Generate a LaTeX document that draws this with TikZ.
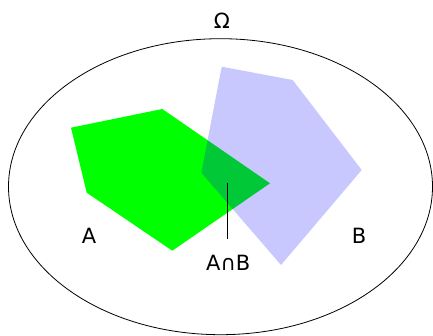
\documentclass[tikz,border=0pt]{standalone}
\usepackage{fontspec}
\setmainfont{DejaVu Sans}
\begin{document}
\begin{tikzpicture}[x=1pt,y=-1pt,
  lbl/.style={font=\fontsize{21}{24}\selectfont, inner sep=0pt}]
\useasboundingbox (0,0) rectangle (433,336);
\draw[line width=0.8pt] (220.5,186.7) ellipse [x radius=212, y radius=148];
\fill[green] (71,127.7) -- (162.3,109) -- (270,183.3) -- (172.3,250.7) -- (86.7,192.7) -- cycle;
\fill[blue, fill opacity=0.216] (221.7,66.7) -- (292.7,80) -- (361.7,170) -- (281,265) -- (201.3,172.7) -- cycle;
\node[lbl] (om) at (222,20.7) {Ω};
\node[lbl] (a) at (89,236) {A};
\node[lbl] (b) at (359,235.7) {B};
\node[lbl] (ab) at (228.3,262.7) {A∩B};
\coordinate (p) at (227.3,183.3);
\coordinate (q) at (227.3,239.3);
\draw[line width=0.8pt] (p) -- (q);
\end{tikzpicture}
\end{document}
